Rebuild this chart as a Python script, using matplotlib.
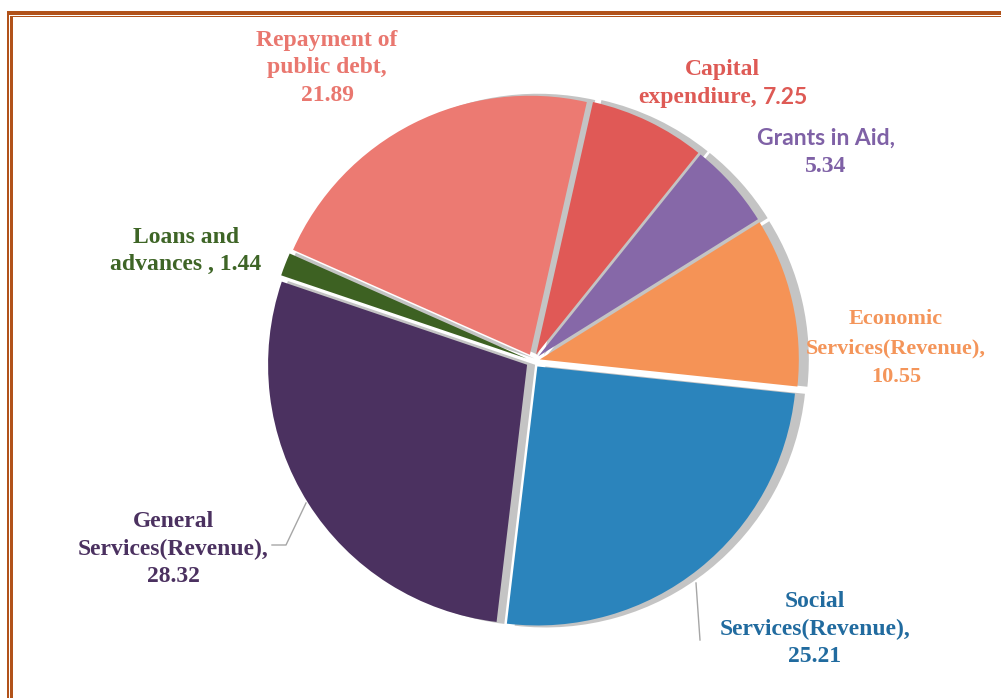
import matplotlib
matplotlib.use("Agg")
import matplotlib.pyplot as plt
from matplotlib.patches import Rectangle

# Expenditure shares (per cent), listed clockwise starting with debt repayment
categories = ["Repayment of public debt", "Capital expendiure", "Grants in Aid",
              "Economic Services(Revenue)", "Social Services(Revenue)",
              "General Services(Revenue)", "Loans and advances"]
values = [21.89, 7.25, 5.34, 10.55, 25.21, 28.32, 1.44]
slice_colors = ["#EC7A72", "#E05956", "#8668A8", "#F59356", "#2B84BC", "#4B3160", "#3D6122"]
label_colors = ["#E9776F", "#DE5A55", "#7F61A6", "#F4955A", "#216B9F", "#4B3160", "#3E6526"]

W, H = 1001, 698
fig = plt.figure(figsize=(W / 100, H / 100), dpi=100)
ax = fig.add_axes([0, 0, 1, 1])

def py(y):
    """Convert a top-down pixel row to the axis' bottom-up coordinate."""
    return H - y

cx, cy, R = 533, py(361), 259
explode = [7] * len(values)   # pie offsets are in data units here
start = 156.1

# grey drop shadow, shifted to the right of the pie
ax.pie(values, explode=explode, startangle=start, counterclock=False,
       radius=R + 2, center=(cx + 8, cy), colors=["#C4C4C4"] * len(values),
       wedgeprops=dict(linewidth=0), frame=True)
ax.pie(values, explode=explode, startangle=start, counterclock=False,
       radius=R, center=(cx, cy), colors=slice_colors,
       wedgeprops=dict(linewidth=0), frame=True)

ax.set_xlim(0, W)
ax.set_ylim(0, H)
ax.set_aspect("equal")
ax.axis("off")

serif = ["Liberation Serif", "DejaVu Serif"]
sans = ["Lato", "DejaVu Sans"]
fs = 17
ls = 1.38

def lab(x, y, s, color, size=fs, family=serif, ha="center", spacing=ls):
    ax.text(x, py(y), s, ha=ha, va="center", color=color, fontsize=size,
            fontweight="bold", family=family, linespacing=spacing)

v = {c: f"{val:.2f}" for c, val in zip(categories, values)}
lc = dict(zip(categories, label_colors))

lab(327, 68, "Repayment of\npublic debt,\n" + v["Repayment of public debt"],
    lc["Repayment of public debt"])
lab(722, 69, "Capital", lc["Capital expendiure"])
lab(757, 98, "expendiure,", lc["Capital expendiure"], ha="right")
lab(763, 98, v["Capital expendiure"], lc["Capital expendiure"], family=sans, size=16.5, ha="left")
lab(826, 138, "Grants in Aid,", lc["Grants in Aid"], family=sans, size=16.5)
lab(826, 166, v["Grants in Aid"], lc["Grants in Aid"])
lab(896, 348, "Economic\nServices(Revenue),\n" + v["Economic Services(Revenue)"],
    lc["Economic Services(Revenue)"], size=16, spacing=1.6)
lab(815, 629, "Social\nServices(Revenue),\n" + v["Social Services(Revenue)"],
    lc["Social Services(Revenue)"])
lab(173, 549, "General\nServices(Revenue),\n" + v["General Services(Revenue)"],
    lc["General Services(Revenue)"])
lab(186, 251, "Loans and\nadvances , " + v["Loans and advances"], lc["Loans and advances"])

# leader lines for the two outlying labels
ax.plot([272, 286, 306], [py(545), py(545), py(503)], color="#A6A6A6", lw=1.0)
ax.plot([700, 696], [py(640), py(583)], color="#A6A6A6", lw=1.0)

# double page-border along the top and left edges
border = "#B1521A"
def frame_rect(x0, y0, w, h):
    fig.add_artist(Rectangle((x0 / W, 1 - (y0 + h) / H), w / W, h / H,
                             transform=fig.transFigure, facecolor=border,
                             edgecolor="none"))

frame_rect(7, 11, W - 7, 4)
frame_rect(10, 16, W - 10, 1.4)
frame_rect(7, 11, 2.4, H - 11)
frame_rect(10.3, 16, 3, H - 16)

fig.savefig("out.png", dpi=100)
